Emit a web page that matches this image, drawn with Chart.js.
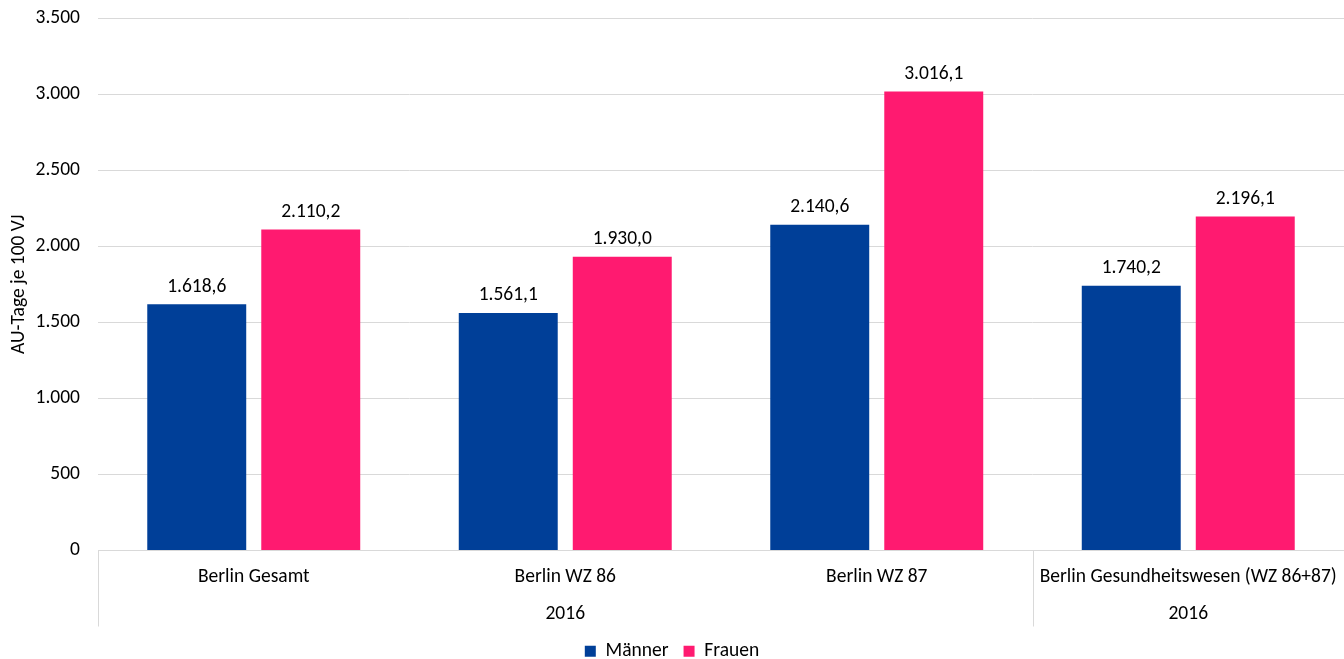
<!DOCTYPE html>
<html>
<head>
<meta charset="utf-8">
<script src="https://cdn.jsdelivr.net/npm/chart.js@4/dist/chart.umd.min.js"></script>
<style>
  html, body { margin: 0; padding: 0; background: #fff; }
  #wrap { width: 1344px; height: 659px; position: relative; }
</style>
</head>
<body>
<div id="wrap"><canvas id="c"></canvas></div>
<script>
// Kategorien und Werte (AU-Tage je 100 Versicherungsjahre)
const categories = ['Berlin Gesamt', 'Berlin WZ 86', 'Berlin WZ 87', 'Berlin Gesundheitswesen (WZ 86+87)'];
const groupLabels = ['2016', '2016'];
const groupStarts = [0, 3];
const groupEnds = [2, 3];
const maenner = [1618.6, 1561.1, 2140.6, 1740.2];
const frauen = [2110.2, 1930.0, 3016.1, 2196.1];
const seriesNames = ['Männer', 'Frauen'];
const yTicks = [0, 500, 1000, 1500, 2000, 2500, 3000, 3500];

const FONT = 'Carlito, Lato, sans-serif';
const FS = 19.5;
const GRID = '#d9d9d9';
const TEXT = '#000';

// deutsches Zahlenformat: Tausenderpunkt, Dezimalkomma
function fmtDe(v, dec) {
  const s = Math.abs(v).toFixed(dec);
  const parts = s.split('.');
  const ip = parts[0].replace(/\B(?=(\d{3})+(?!\d))/g, '.');
  return (v < 0 ? '-' : '') + ip + (parts.length > 1 ? ',' + parts[1] : '');
}

// Wertebeschriftungen über den Balken
const valueLabels = {
  id: 'valueLabels',
  afterDatasetsDraw(chart) {
    const ctx = chart.ctx;
    ctx.save();
    ctx.font = FS + 'px ' + FONT;
    ctx.fillStyle = TEXT;
    ctx.textAlign = 'center';
    ctx.textBaseline = 'alphabetic';
    chart.data.datasets.forEach((ds, di) => {
      chart.getDatasetMeta(di).data.forEach((bar, i) => {
        ctx.fillText(fmtDe(ds.data[i], 1), bar.x, bar.y - 12.5);
      });
    });
    ctx.restore();
  }
};

// Zweite Achsenebene: Jahresgruppen und Trennlinien
const groupAxis = {
  id: 'groupAxis',
  afterDraw(chart) {
    const x = chart.scales.x;
    const ctx = chart.ctx;
    const top = x.top;
    const bottom = x.bottom;
    const step = (x.right - x.left) / categories.length;
    ctx.save();
    ctx.strokeStyle = GRID;
    ctx.lineWidth = 1;
    groupStarts.forEach(s => {
      const gx = Math.round(x.left + s * step) + 0.5;
      ctx.beginPath();
      ctx.moveTo(gx, top);
      ctx.lineTo(gx, bottom);
      ctx.stroke();
    });
    ctx.font = FS + 'px ' + FONT;
    ctx.fillStyle = TEXT;
    ctx.textAlign = 'center';
    ctx.textBaseline = 'middle';
    groupLabels.forEach((lab, g) => {
      const cx = x.left + ((groupStarts[g] + groupEnds[g] + 1) / 2) * step;
      ctx.fillText(lab, cx, top + 64);
    });
    ctx.restore();
  }
};

new Chart(document.getElementById('c'), {
  type: 'bar',
  data: {
    labels: categories,
    datasets: [
      { label: seriesNames[0], data: maenner, backgroundColor: '#003f98' },
      { label: seriesNames[1], data: frauen, backgroundColor: '#ff1a70' }
    ]
  },
  options: {
    responsive: true,
    maintainAspectRatio: false,
    animation: false,
    layout: { padding: { top: 18, right: 0, left: 0, bottom: -12 } },
    datasets: { bar: { categoryPercentage: 0.732, barPercentage: 0.868 } },
    plugins: {
      legend: {
        position: 'bottom',
        labels: {
          font: { family: FONT, size: FS },
          color: TEXT,
          boxWidth: 11,
          boxHeight: 11,
          padding: 15
        }
      },
      tooltip: { enabled: false }
    },
    scales: {
      x: {
        grid: { display: false, drawTicks: false },
        border: { display: true, color: GRID },
        ticks: {
          font: { family: FONT, size: FS },
          color: TEXT,
          padding: 15,
          maxRotation: 0,
          autoSkip: false
        },
        afterFit(scale) {
          scale.height = 76;
          scale.paddingLeft = 0;
          scale.paddingRight = 0;
        }
      },
      y: {
        min: 0,
        max: 3500,
        afterBuildTicks(scale) { scale.ticks = yTicks.map(v => ({ value: v })); },
        grid: { color: GRID, drawTicks: false },
        border: { display: false },
        ticks: {
          font: { family: FONT, size: FS },
          color: TEXT,
          padding: 18,
          callback: v => fmtDe(v, 0)
        },
        title: {
          display: true,
          text: 'AU-Tage je 100 VJ',
          font: { family: FONT, size: FS },
          color: TEXT,
          padding: { top: 7, bottom: 0 }
        },
        afterFit(scale) {
          scale.width = 98;
          scale.paddingTop = 0;
          scale.paddingBottom = 0;
        }
      }
    }
  },
  plugins: [valueLabels, groupAxis]
});
</script>
</body>
</html>
